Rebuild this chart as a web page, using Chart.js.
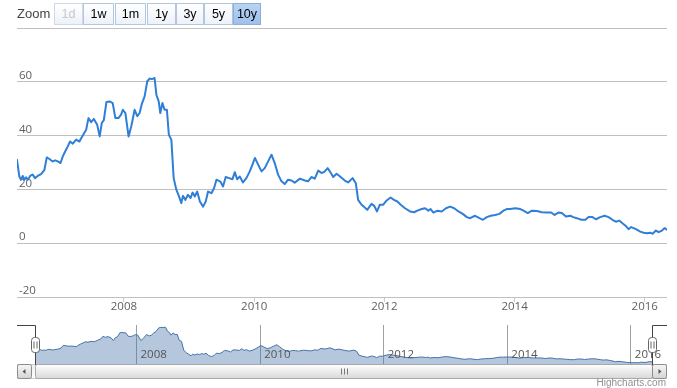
<!DOCTYPE html>
<html><head><meta charset="utf-8">
<script src="https://cdn.jsdelivr.net/npm/chart.js@4.4.1/dist/chart.umd.min.js"></script>
<style>
html,body{margin:0;padding:0;background:#fff;width:677px;height:388px;overflow:hidden;}
#wrap{position:relative;width:677px;height:388px;}
#main{position:absolute;left:0;top:0;}
#nav{position:absolute;left:0;top:318px;}
.zl{position:absolute;left:17px;top:4px;font:13px "Liberation Sans",Arial,sans-serif;color:#444;line-height:20px;}
.btn{position:absolute;top:3px;height:22px;box-sizing:border-box;border:1px solid #b4c6de;background:linear-gradient(#ffffff,#edf2f9);font:12.5px "Liberation Sans",Arial,sans-serif;color:#000;text-align:center;line-height:20px;}
.btn.dis{color:#c8c8c8;border-color:#d0dae6}
.btn.sel{background:linear-gradient(#b9d3f3,#9dc1ec);border-color:#8eaed6;}
.credit{position:absolute;right:11px;top:377px;font:10px "Liberation Sans",Arial,sans-serif;color:#909090;line-height:12px;}
</style></head>
<body><div id="wrap">
<canvas id="main" width="677" height="318"></canvas>
<canvas id="nav" width="677" height="70"></canvas>
<div class="zl">Zoom</div>
<div class="credit">Highcharts.com</div>
</div>
<script>
const dates = ["2006-05-11","2006-05-24","2006-06-03","2006-06-12","2006-06-21","2006-07-01","2006-07-10","2006-07-25","2006-08-07","2006-08-20","2006-09-04","2006-09-23","2006-10-12","2006-10-25","2006-11-09","2006-11-27","2006-12-11","2006-12-26","2007-01-10","2007-01-23","2007-02-05","2007-02-20","2007-03-05","2007-03-20","2007-04-08","2007-04-26","2007-05-15","2007-06-03","2007-06-16","2007-07-01","2007-07-16","2007-08-04","2007-08-18","2007-08-30","2007-09-10","2007-09-25","2007-10-12","2007-10-30","2007-11-14","2007-12-01","2007-12-16","2007-12-26","2008-01-09","2008-01-27","2008-02-11","2008-03-01","2008-03-16","2008-03-29","2008-04-11","2008-04-26","2008-05-11","2008-05-24","2008-06-06","2008-06-21","2008-07-01","2008-07-14","2008-07-23","2008-08-04","2008-08-16","2008-08-29","2008-09-09","2008-09-23","2008-10-06","2008-10-21","2008-11-05","2008-11-18","2008-11-27","2008-12-11","2008-12-25","2009-01-09","2009-01-20","2009-02-02","2009-02-15","2009-03-02","2009-03-20","2009-04-04","2009-04-17","2009-05-06","2009-05-21","2009-06-03","2009-06-25","2009-07-10","2009-07-25","2009-08-13","2009-09-01","2009-09-14","2009-09-27","2009-10-12","2009-10-30","2009-11-18","2009-12-07","2009-12-22","2010-01-05","2010-01-23","2010-02-11","2010-03-01","2010-03-20","2010-04-08","2010-04-26","2010-05-15","2010-06-03","2010-06-21","2010-07-10","2010-07-29","2010-08-16","2010-09-14","2010-10-12","2010-10-30","2010-11-18","2010-12-07","2010-12-26","2011-01-14","2011-01-29","2011-02-17","2011-03-07","2011-03-20","2011-04-08","2011-04-26","2011-05-24","2011-06-12","2011-07-07","2011-07-25","2011-08-07","2011-08-26","2011-09-08","2011-09-27","2011-10-21","2011-11-05","2011-11-21","2011-12-07","2011-12-26","2012-01-14","2012-02-05","2012-02-24","2012-03-14","2012-04-02","2012-04-26","2012-05-24","2012-06-16","2012-07-04","2012-07-29","2012-08-16","2012-09-04","2012-09-17","2012-10-02","2012-10-25","2012-11-18","2012-12-12","2013-01-04","2013-01-27","2013-02-20","2013-03-16","2013-04-08","2013-04-26","2013-05-24","2013-06-18","2013-07-07","2013-07-29","2013-08-20","2013-09-14","2013-10-08","2013-10-30","2013-11-18","2013-12-07","2014-01-05","2014-02-02","2014-02-20","2014-03-16","2014-04-08","2014-05-06","2014-06-03","2014-07-01","2014-07-25","2014-08-13","2014-09-04","2014-09-23","2014-10-16","2014-11-09","2014-11-27","2014-12-16","2015-01-10","2015-02-02","2015-02-20","2015-03-14","2015-04-02","2015-04-26","2015-05-21","2015-06-12","2015-07-04","2015-07-23","2015-08-11","2015-08-29","2015-09-17","2015-10-02","2015-10-17","2015-11-13","2015-12-07","2015-12-26","2016-01-14","2016-02-01","2016-02-14","2016-03-04","2016-03-19","2016-04-07","2016-04-21","2016-05-05"];
const values = [31.0,24.8,23.6,25.0,23.6,24.5,23.6,25.1,25.5,24.2,25.0,25.7,27.3,31.9,31.3,30.4,30.8,30.4,29.8,32.3,34.1,36.0,37.8,37.0,38.5,37.8,40.0,42.2,46.5,45.0,46.2,44.0,39.7,44.7,45.7,52.5,52.7,52.1,46.5,46.5,47.8,49.6,48.4,39.7,43.4,49.6,47.2,48.4,51.9,54.6,60.2,61.2,61.0,61.4,55.2,52.7,48.4,52.1,49.6,49.6,40.3,38.5,24.2,19.9,17.4,14.9,17.6,16.1,18.0,16.8,18.8,17.4,19.2,15.5,13.6,15.5,19.2,18.6,20.5,23.6,22.9,21.1,24.6,24.2,23.8,26.4,23.8,24.8,22.6,24.2,26.7,29.2,31.7,29.2,26.7,27.9,30.4,32.9,29.8,25.5,23.0,22.0,23.6,23.3,22.5,24.0,23.3,23.0,24.6,24.0,27.0,26.1,26.5,27.9,26.1,24.6,25.8,24.9,23.3,22.6,24.2,22.3,16.1,14.3,13.6,12.4,14.6,13.9,11.8,14.3,14.3,15.9,17.0,16.1,15.5,14.3,13.0,11.8,11.5,12.1,12.7,13.0,12.1,12.7,11.4,12.1,11.8,13.0,13.6,13.0,11.8,10.9,9.7,9.3,10.2,9.3,8.7,9.7,10.2,10.5,10.9,12.1,12.7,12.7,13.0,12.7,12.1,11.2,12.1,12.0,11.5,11.4,11.4,10.5,11.4,11.2,9.9,10.2,9.7,9.3,8.7,8.7,9.7,9.7,8.9,9.7,10.2,9.7,8.7,8.0,8.4,7.4,6.4,5.2,6.0,5.2,4.3,3.9,3.7,3.9,3.5,4.7,4.1,4.7,5.6,5.0];
const tickYears = [2008, 2010, 2012, 2014, 2016];
const yTicks = [-20, 0, 20, 40, 60, 80];
const zoomButtons = ["1d", "1w", "1m", "1y", "3y", "5y", "10y"];
const disabledButton = "1d";
const selectedButton = "10y";

// range selector buttons (UI)
const btnLeft = [54, 83, 115, 147, 176, 204, 233];
const btnWidth = [29, 31, 31, 29, 28, 29, 28];
const wrap = document.getElementById('wrap');
zoomButtons.forEach((t, i) => {
  const b = document.createElement('div');
  b.className = 'btn' + (t === disabledButton ? ' dis' : '') + (t === selectedButton ? ' sel' : '');
  b.style.left = btnLeft[i] + 'px';
  b.style.width = btnWidth[i] + 'px';
  b.textContent = t;
  wrap.appendChild(b);
});

const ts = dates.map(d => Date.parse(d));
const pts = ts.map((t, i) => ({x: t, y: values[i]}));
const xMin = ts[0], xMax = ts[ts.length - 1];
const yearTicks = s => { s.ticks = tickYears.map(y => ({value: Date.UTC(y, 0, 1)})); };
const yearLabel = v => String(new Date(v).getUTCFullYear());
const labelFont = {family: "'Open Sans', 'DejaVu Sans', sans-serif", size: 11.5};

new Chart(document.getElementById('main'), {
  type: 'line',
  data: {datasets: [{data: pts, borderColor: '#2f7ed8', borderWidth: 2, pointRadius: 0, tension: 0, fill: false, borderJoinStyle: 'round', borderCapStyle: 'round'}]},
  options: {
    responsive: false, animation: false, devicePixelRatio: 1,
    layout: {padding: {left: 17, right: 10, top: 28, bottom: 0}},
    plugins: {legend: {display: false}, tooltip: {enabled: false}},
    scales: {
      x: {
        type: 'linear', min: xMin, max: xMax,
        afterBuildTicks: yearTicks,
        afterFit: s => { s.height = 21; },
        grid: {drawOnChartArea: false, drawTicks: true, tickLength: 5, color: '#c0d0e0'},
        border: {display: false},
        ticks: {autoSkip: false, maxRotation: 0, padding: -2, color: '#606060', font: labelFont, callback: yearLabel}
      },
      y: {
        min: -20, max: 80,
        afterBuildTicks: s => { s.ticks = yTicks.map(v => ({value: v})); },
        afterFit: s => { s.width = 0; },
        grid: {color: '#c0c0c0', drawTicks: false, lineWidth: 1},
        border: {display: false},
        ticks: {mirror: true, padding: 2, labelOffset: -6, color: '#606060', font: labelFont,
          callback: v => v === yTicks[yTicks.length - 1] ? '' : String(v)}
      }
    }
  }
});

const navDecor = {
  id: 'navDecor',
  afterDraw(chart) {
    const ctx = chart.ctx, a = chart.chartArea;
    const L = Math.round(a.left) + 0.5, R = Math.round(a.right) + 0.5, T = Math.round(a.top), B = Math.round(a.bottom);
    const trackL = 17.5, trackR = 666.5, sbT = B - 0.5, sbH = 14;
    ctx.save();
    // track
    let g = ctx.createLinearGradient(0, sbT, 0, sbT + sbH);
    g.addColorStop(0, '#eeeeee'); g.addColorStop(1, '#ffffff');
    ctx.fillStyle = g; ctx.strokeStyle = '#cccccc'; ctx.lineWidth = 1;
    ctx.fillRect(trackL, sbT, trackR - trackL, sbH);
    ctx.strokeRect(trackL, sbT, trackR - trackL, sbH);
    // bar
    g = ctx.createLinearGradient(0, sbT, 0, sbT + sbH);
    g.addColorStop(0, '#ffffff'); g.addColorStop(1, '#d8d8d8');
    ctx.fillStyle = g; ctx.strokeStyle = '#a8a8a8';
    ctx.beginPath(); ctx.roundRect(L, sbT, R - L, sbH, 2); ctx.fill(); ctx.stroke();
    // rifles
    const cx = Math.round((L + R) / 2) + 0.5;
    ctx.strokeStyle = '#777';
    ctx.beginPath();
    [-3, 0, 3].forEach(d => { ctx.moveTo(cx + d, sbT + 4); ctx.lineTo(cx + d, sbT + 10); });
    ctx.stroke();
    // buttons
    [[trackL, -1], [trackR - sbH, 1]].forEach(([bx, dir]) => {
      g = ctx.createLinearGradient(0, sbT, 0, sbT + sbH);
      g.addColorStop(0, '#f6f6f6'); g.addColorStop(1, '#d4d4d4');
      ctx.fillStyle = g; ctx.strokeStyle = '#8c8c8c';
      ctx.beginPath(); ctx.roundRect(bx, sbT, sbH, sbH, 2); ctx.fill(); ctx.stroke();
      const mx = bx + sbH / 2, my = sbT + sbH / 2;
      ctx.fillStyle = '#555';
      ctx.beginPath();
      ctx.moveTo(mx + dir * 2, my); ctx.lineTo(mx - dir * 1, my - 2.5); ctx.lineTo(mx - dir * 1, my + 2.5); ctx.closePath();
      ctx.fill();
    });
    // outline
    ctx.strokeStyle = '#444'; ctx.lineWidth = 1;
    ctx.beginPath();
    ctx.moveTo(trackL - 0.5, T + 0.5); ctx.lineTo(L, T + 0.5); ctx.lineTo(L, B);
    ctx.moveTo(R, B); ctx.lineTo(R, T + 0.5); ctx.lineTo(trackR + 0.5, T + 0.5);
    ctx.stroke();
    // handles
    [L, R].forEach(hx => {
      const hy = T + 12.5;
      ctx.fillStyle = '#ffffff'; ctx.strokeStyle = '#666';
      ctx.beginPath(); ctx.roundRect(hx - 4, hy, 8, 15, 3); ctx.fill(); ctx.stroke();
      ctx.beginPath();
      ctx.moveTo(hx - 1.5, hy + 4); ctx.lineTo(hx - 1.5, hy + 11);
      ctx.moveTo(hx + 1.5, hy + 4); ctx.lineTo(hx + 1.5, hy + 11);
      ctx.stroke();
    });
    ctx.restore();
  }
};

new Chart(document.getElementById('nav'), {
  type: 'line',
  data: {datasets: [{data: pts, borderColor: '#4572a7', borderWidth: 1, backgroundColor: 'rgba(69,114,167,0.4)', fill: 'start', pointRadius: 0, tension: 0}]},
  options: {
    responsive: false, animation: false, devicePixelRatio: 1,
    layout: {padding: {left: 35, right: 25, top: 7, bottom: 23}},
    plugins: {legend: {display: false}, tooltip: {enabled: false}},
    scales: {
      x: {
        type: 'linear', min: xMin, max: xMax,
        afterBuildTicks: yearTicks,
        afterFit: s => { s.height = 0; },
        grid: {drawTicks: false, color: '#a0a0a0'},
        border: {display: false},
        ticks: {mirror: true, align: 'start', labelOffset: 4, padding: 3, z: 1, autoSkip: false, maxRotation: 0, color: '#555', font: labelFont, callback: yearLabel}
      },
      y: {display: false, min: 0, max: 65}
    }
  },
  plugins: [navDecor]
});
</script>
</body></html>
